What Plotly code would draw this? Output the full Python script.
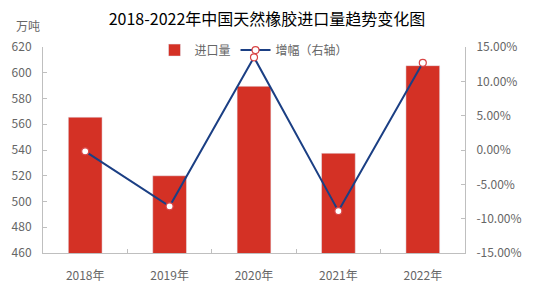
import plotly.graph_objects as go

years = ["2018年", "2019年", "2020年", "2021年", "2022年"]
imports = [565.5, 520, 589.5, 537.5, 605.5]
growth = [-0.2, -8.2, 13.5, -8.9, 12.7]

left_ticks = [460, 480, 500, 520, 540, 560, 580, 600, 620]
right_ticks = [-15, -10, -5, 0, 5, 10, 15]
right_labels = ["%.2f%%" % v for v in right_ticks]

FONT = "Noto Sans CJK SC"
GRAY = "#666666"
AX = "#BFBFBF"

fig = go.Figure()
fig.add_trace(go.Bar(x=years, y=imports, name="进口量", marker_color="#D43125",
                     width=0.4, yaxis="y"))
fig.add_trace(go.Scatter(x=years, y=growth, name="增幅（右轴）", yaxis="y2",
                         mode="lines+markers",
                         line=dict(color="#1B3F84", width=2),
                         marker=dict(symbol="circle", size=7, color="white",
                                     line=dict(color="#D94545", width=1.2))))

fig.update_layout(
    width=534, height=295,
    margin=dict(l=39, r=66, t=47, b=41),
    paper_bgcolor="white", plot_bgcolor="white",
    font=dict(family=FONT, size=12, color=GRAY),
    showlegend=True,
    legend=dict(orientation="h", x=0.5, xanchor="center", y=0.985, yanchor="middle",
                font=dict(size=12, color=GRAY), bgcolor="rgba(0,0,0,0)",
                itemwidth=30, tracegroupgap=0),
    title=dict(text="2018-2022年中国天然橡胶进口量趋势变化图", x=0.5, xanchor="center",
               y=0.935, yanchor="middle", font=dict(size=16, color="#000000", family=FONT)),
    xaxis=dict(type="category", showline=True, linecolor=AX, linewidth=1,
               ticks="inside", tickson="boundaries", ticklen=4, tickcolor=AX,
               tickfont=dict(size=12, color=GRAY), showgrid=False, zeroline=False,
               mirror=False, ticklabelstandoff=12),
    yaxis=dict(range=[460, 620], tickvals=left_ticks, showline=True, linecolor=AX,
               ticks="inside", ticklen=4, tickcolor=AX, showgrid=False, zeroline=False,
               tickfont=dict(size=12, color=GRAY), ticklabelstandoff=8),
    yaxis2=dict(range=[-15, 15], tickvals=right_ticks, ticktext=right_labels,
                overlaying="y", side="right", showline=True, linecolor=AX,
                ticks="inside", ticklen=4, tickcolor=AX, showgrid=False, zeroline=False,
                tickfont=dict(size=12, color=GRAY), ticklabelstandoff=8),
    bargap=0.6,
)
fig.add_annotation(text="万吨", xref="paper", yref="paper", x=-0.068, y=1.105,
                   xanchor="left", yanchor="middle", showarrow=False,
                   font=dict(size=12, color=GRAY, family=FONT))

fig.write_html("out.html")
